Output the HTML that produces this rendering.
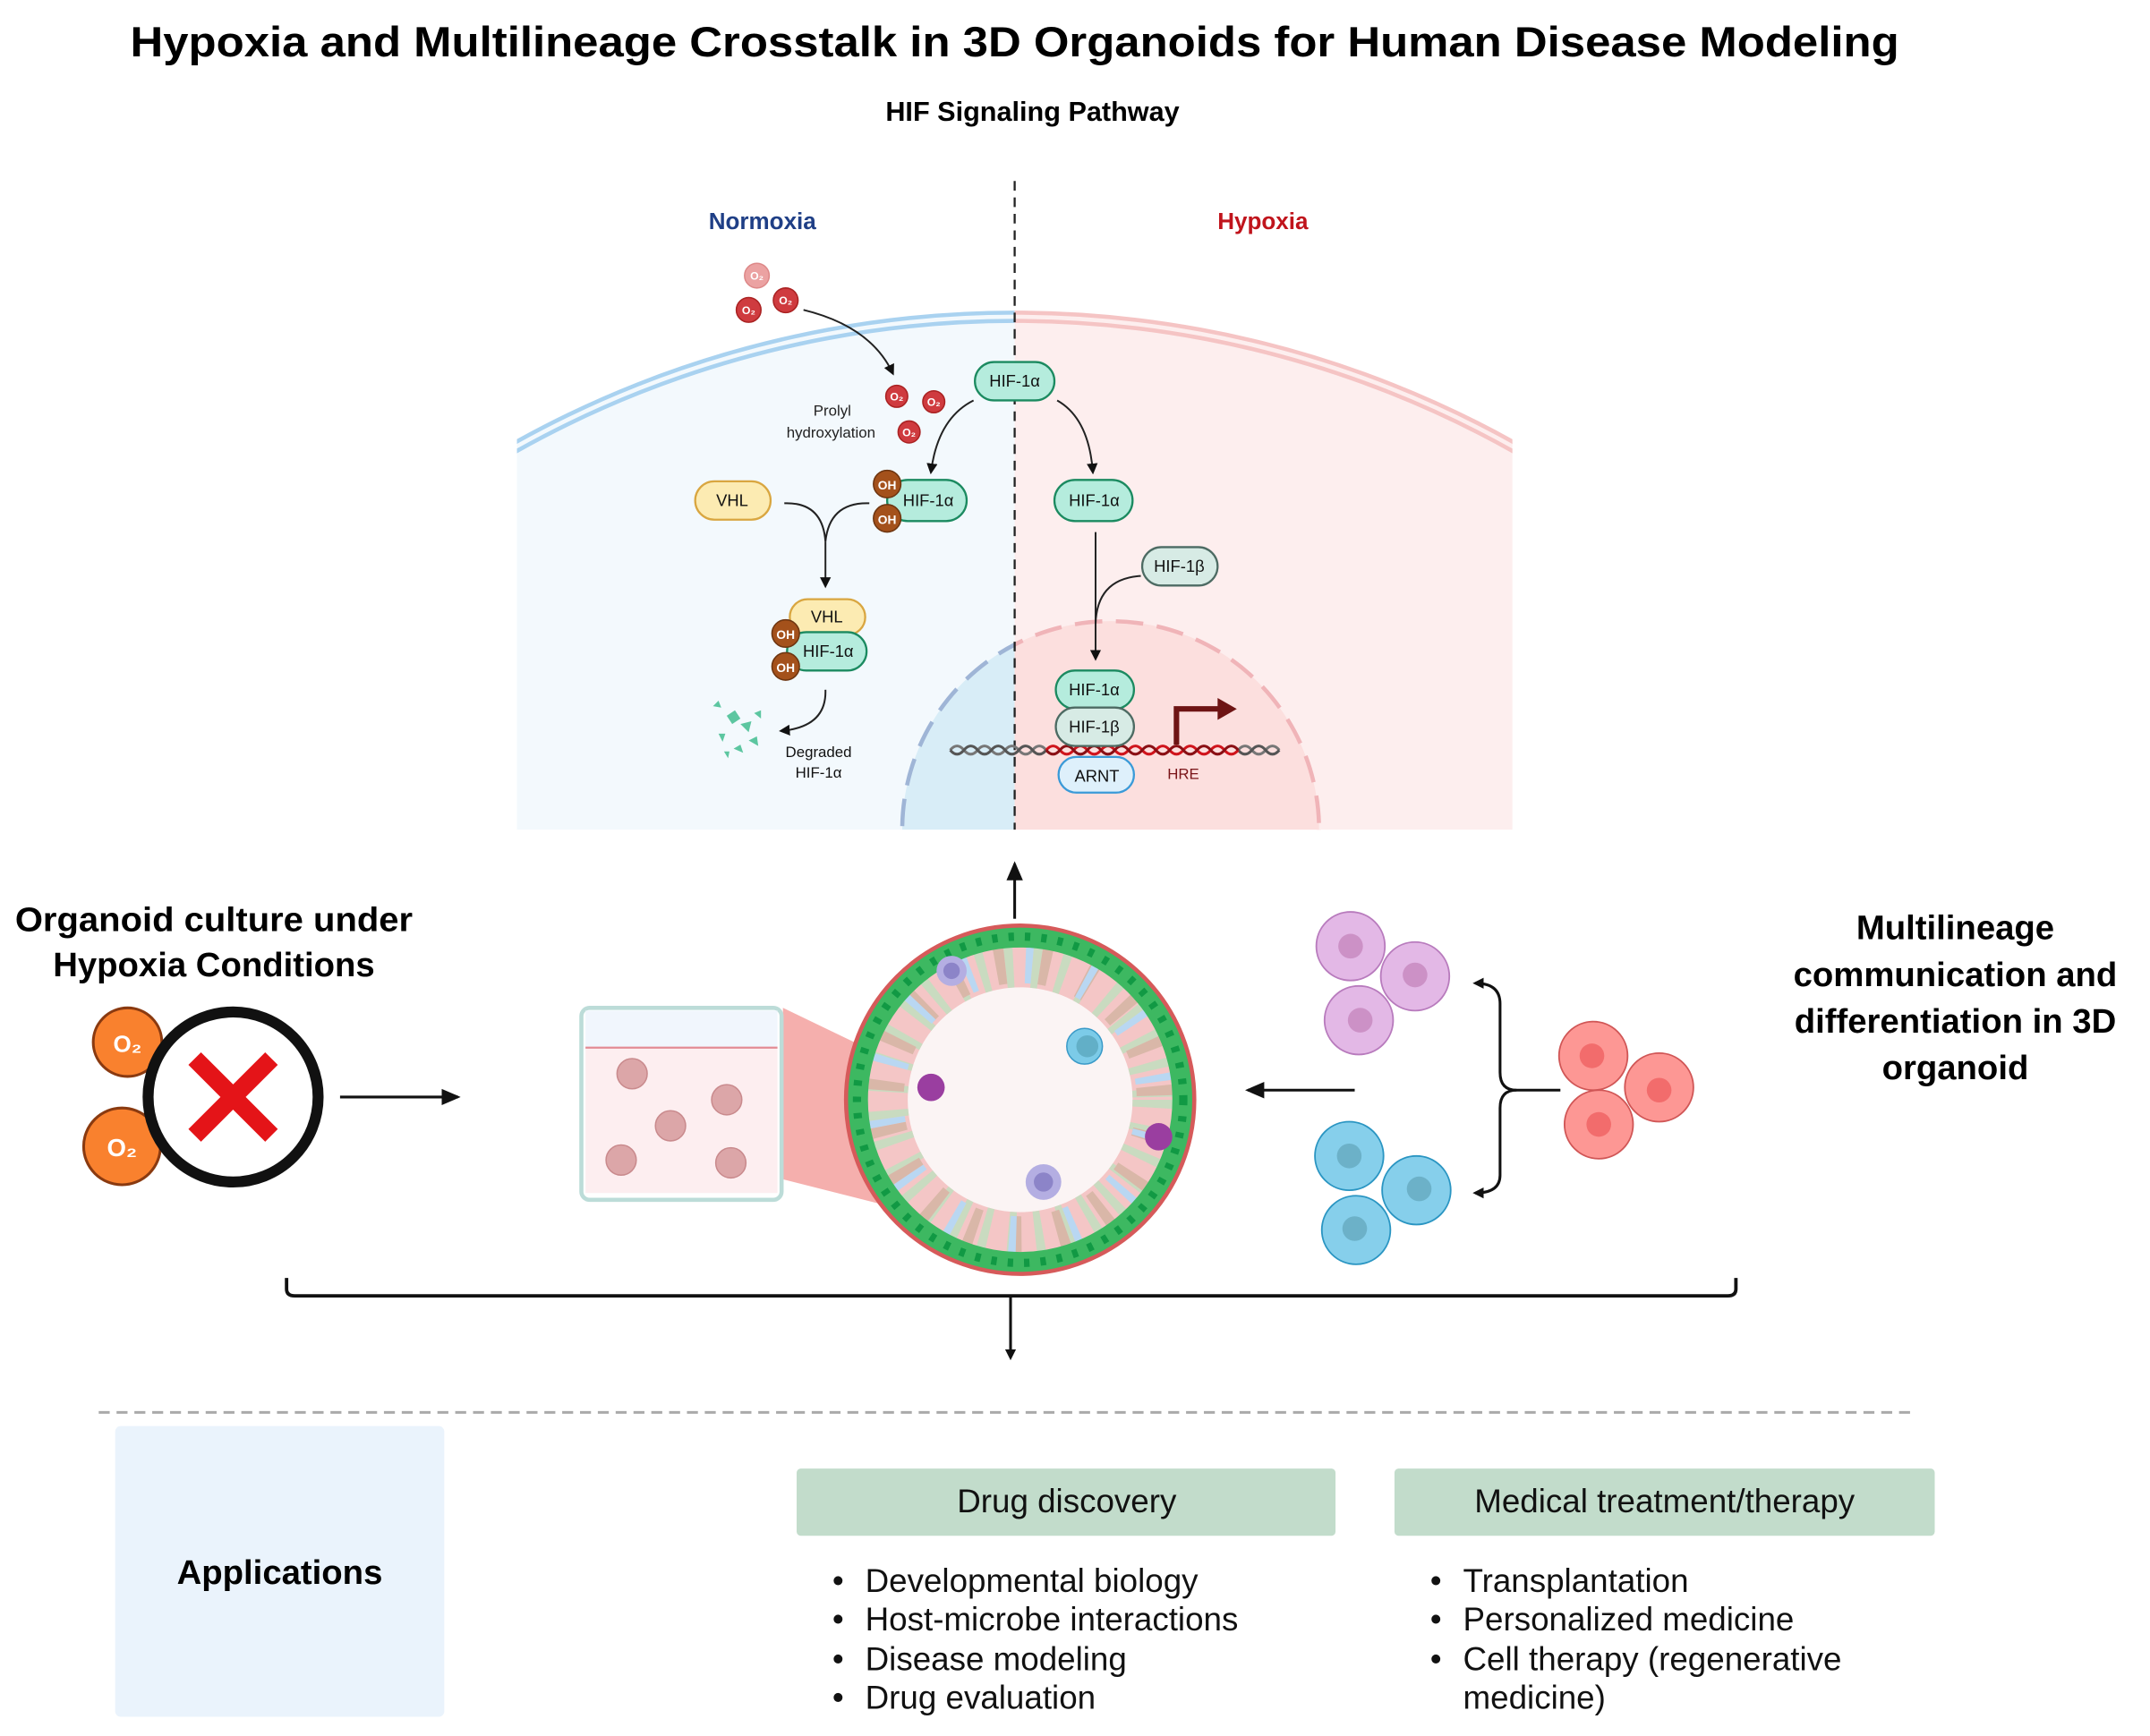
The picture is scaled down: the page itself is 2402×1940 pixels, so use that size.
<!DOCTYPE html>
<html><head><meta charset="utf-8"><style>
html,body{margin:0;padding:0;background:#fff;width:2402px;height:1940px;overflow:hidden}
svg{display:block}
text{font-family:"Liberation Sans",Arial,sans-serif}
</style></head><body>
<svg width="2402" height="1940" viewBox="0 0 1568 1266" preserveAspectRatio="none" xmlns="http://www.w3.org/2000/svg">
<defs>
<marker id="ah" markerWidth="8" markerHeight="8" refX="6" refY="4" orient="auto" markerUnits="userSpaceOnUse"><path d="M0,0 L8,4 L0,8 Z" fill="#111"/></marker>
<marker id="ahb" markerWidth="14" markerHeight="12" refX="12" refY="6" orient="auto" markerUnits="userSpaceOnUse"><path d="M0,0 L14,6 L0,12 Z" fill="#111"/></marker>
<clipPath id="pan"><rect x="377" y="120" width="726" height="485"/></clipPath>
<clipPath id="leftc"><rect x="377" y="120" width="363" height="485"/></clipPath>
<clipPath id="rightc"><rect x="740" y="120" width="363" height="485"/></clipPath>
<clipPath id="orgc"><circle cx="744" cy="802" r="127"/></clipPath>
</defs>

<text x="95" y="41" font-size="31" font-weight="bold" fill="#000" textLength="1290" lengthAdjust="spacingAndGlyphs">Hypoxia and Multilineage Crosstalk in 3D Organoids for Human Disease Modeling</text>
<text x="753" y="88" font-size="20" font-weight="bold" text-anchor="middle" fill="#000">HIF Signaling Pathway</text>

<g clip-path="url(#pan)">
 <g clip-path="url(#leftc)">
  <circle cx="740" cy="976" r="748" fill="#f3f9fd"/>
  <circle cx="740" cy="976" r="748" fill="none" stroke="#a9d2f0" stroke-width="3"/>
  <circle cx="740" cy="976" r="742" fill="none" stroke="#a9d2f0" stroke-width="3"/>
  <circle cx="810" cy="605" r="152" fill="#d8edf7" stroke="#9fb5d6" stroke-width="3" stroke-dasharray="20 10"/>
 </g>
 <g clip-path="url(#rightc)">
  <circle cx="740" cy="976" r="748" fill="#fdeeee"/>
  <circle cx="740" cy="976" r="748" fill="none" stroke="#f5c4c4" stroke-width="3"/>
  <circle cx="740" cy="976" r="742" fill="none" stroke="#f5c4c4" stroke-width="3"/>
  <circle cx="810" cy="605" r="152" fill="#fcdfde" stroke="#f0b4b8" stroke-width="3" stroke-dasharray="20 10"/>
 </g>
</g>
<line x1="740" y1="132" x2="740" y2="605" stroke="#222" stroke-width="1.5" stroke-dasharray="7 5"/>
<text x="556" y="167" font-size="17" font-weight="bold" text-anchor="middle" fill="#1f3f86">Normoxia</text>
<text x="921" y="167" font-size="17" font-weight="bold" text-anchor="middle" fill="#c0141c">Hypoxia</text>

<g font-size="8" font-weight="bold" fill="#fff" text-anchor="middle">
<circle cx="552" cy="201" r="9" fill="#eba2a2" stroke="#d88"/><text x="552" y="204">O₂</text>
<circle cx="546" cy="226" r="9" fill="#cf3b3f" stroke="#a22"/><text x="546" y="229">O₂</text>
<circle cx="573" cy="219" r="9" fill="#cf3b3f" stroke="#a22"/><text x="573" y="222">O₂</text>
<circle cx="654" cy="289" r="8" fill="#cf3b3f" stroke="#a22"/><text x="654" y="292">O₂</text>
<circle cx="681" cy="293" r="8" fill="#cf3b3f" stroke="#a22"/><text x="681" y="296">O₂</text>
<circle cx="663" cy="315" r="8" fill="#cf3b3f" stroke="#a22"/><text x="663" y="318">O₂</text>
</g>
<path d="M586,226 Q635,238 651,272" fill="none" stroke="#222" stroke-width="1.3" marker-end="url(#ah)"/>
<text x="607" y="303" font-size="11" text-anchor="middle" fill="#222">Prolyl</text>
<text x="606" y="319" font-size="11" text-anchor="middle" fill="#222">hydroxylation</text>

<g font-size="12" text-anchor="middle" fill="#111">
<rect x="711" y="264" width="58" height="28" rx="14" fill="#b5ecdd" stroke="#1b8a60" stroke-width="1.5"/><text x="740" y="282">HIF-1α</text>
<path d="M710,292 Q684,305 679,344" fill="none" stroke="#222" stroke-width="1.3" marker-end="url(#ah)"/>
<path d="M771,292 Q794,305 797,344" fill="none" stroke="#222" stroke-width="1.3" marker-end="url(#ah)"/>

<rect x="647" y="350" width="58" height="30" rx="15" fill="#b5ecdd" stroke="#1b8a60" stroke-width="1.5"/><text x="677" y="369">HIF-1α</text>
<circle cx="647" cy="353" r="10" fill="#a4511b" stroke="#6d3510"/><text x="647" y="357" font-size="9" font-weight="bold" fill="#fff">OH</text>
<circle cx="647" cy="378" r="10" fill="#a4511b" stroke="#6d3510"/><text x="647" y="382" font-size="9" font-weight="bold" fill="#fff">OH</text>
<rect x="507" y="351" width="55" height="28" rx="14" fill="#fcebb2" stroke="#d9a640" stroke-width="1.5"/><text x="534" y="369">VHL</text>
<path d="M572,367 Q600,366 602,395 M634,367 Q605,366 602,395" fill="none" stroke="#222" stroke-width="1.3"/>
<line x1="602" y1="395" x2="602" y2="427" stroke="#222" stroke-width="1.3" marker-end="url(#ah)"/>

<rect x="576" y="437" width="55" height="26" rx="13" fill="#fcebb2" stroke="#d9a640" stroke-width="1.5"/><text x="603" y="454">VHL</text>
<rect x="574" y="461" width="58" height="28" rx="14" fill="#b5ecdd" stroke="#1b8a60" stroke-width="1.5"/><text x="604" y="479">HIF-1α</text>
<circle cx="573" cy="462" r="10" fill="#a4511b" stroke="#6d3510"/><text x="573" y="466" font-size="9" font-weight="bold" fill="#fff">OH</text>
<circle cx="573" cy="486" r="10" fill="#a4511b" stroke="#6d3510"/><text x="573" y="490" font-size="9" font-weight="bold" fill="#fff">OH</text>
<path d="M602,503 Q603,530 570,533" fill="none" stroke="#222" stroke-width="1.3" marker-end="url(#ah)"/>
<text x="597" y="552" font-size="11">Degraded</text>
<text x="597" y="567" font-size="11">HIF-1α</text>

<rect x="769" y="350" width="57" height="30" rx="15" fill="#b5ecdd" stroke="#1b8a60" stroke-width="1.5"/><text x="798" y="369">HIF-1α</text>
<line x1="799" y1="388" x2="799" y2="480" stroke="#222" stroke-width="1.3" marker-end="url(#ah)"/>
<path d="M832,420 Q800,422 799,455" fill="none" stroke="#222" stroke-width="1.3"/>
<rect x="833" y="399" width="55" height="28" rx="14" fill="#d7ebe5" stroke="#4d6b63" stroke-width="1.5"/><text x="860" y="417">HIF-1β</text>
<path d="M693,547 q5,-6 10,0 t10,0 t10,0 t10,0 t10,0 t10,0 t10,0 M903,547 q5,-6 10,0 t10,0 t10,0" fill="none" stroke="#777" stroke-width="2"/>
<path d="M693,547 q5,6 10,0 t10,0 t10,0 t10,0 t10,0 t10,0 t10,0 M903,547 q5,6 10,0 t10,0 t10,0" fill="none" stroke="#555" stroke-width="2"/>
<path d="M763,547 q5,-6 10,0 t10,0 t10,0 t10,0 t10,0 t10,0 t10,0 t10,0 t10,0 t10,0 t10,0 t10,0 t10,0 t10,0" fill="none" stroke="#d0141c" stroke-width="2"/>
<path d="M763,547 q5,6 10,0 t10,0 t10,0 t10,0 t10,0 t10,0 t10,0 t10,0 t10,0 t10,0 t10,0 t10,0 t10,0 t10,0" fill="none" stroke="#8a0f14" stroke-width="2"/>
<rect x="770" y="489" width="57" height="28" rx="14" fill="#b5ecdd" stroke="#1b8a60" stroke-width="1.5"/><text x="798" y="507">HIF-1α</text>
<rect x="770" y="516" width="57" height="28" rx="14" fill="#d7ebe5" stroke="#4d6b63" stroke-width="1.5"/><text x="798" y="534">HIF-1β</text>
<rect x="772" y="552" width="55" height="26" rx="13" fill="#def0fb" stroke="#3a9ad8" stroke-width="1.5"/><text x="800" y="570">ARNT</text>
<text x="863" y="568" font-size="11" fill="#7a1418">HRE</text>
</g>
<path d="M858,543 L858,517 L890,517" fill="none" stroke="#6e1414" stroke-width="4"/>
<path d="M888,509 L902,517 L888,525 Z" fill="#6e1414"/>
<g fill="#5cc6a0">
<path d="M530,522 l6,-4 l4,6 l-6,4 z"/><path d="M540,528 l8,-2 l-2,8 z"/><path d="M524,535 l5,0 l-2,6 z"/><path d="M546,540 l6,-3 l1,7 z"/><path d="M535,546 l5,-3 l2,6 z"/><path d="M520,515 l4,-4 l2,5 z"/><path d="M550,520 l5,-2 l0,6 z"/><path d="M528,548 l4,0 l-1,5 z"/>
</g>

<line x1="740" y1="670" x2="740" y2="630" stroke="#111" stroke-width="2" marker-end="url(#ahb)"/>

<text x="11" y="679" font-size="25" font-weight="bold" fill="#000" textLength="290" lengthAdjust="spacingAndGlyphs">Organoid culture under</text>
<text x="156" y="712" font-size="25" font-weight="bold" text-anchor="middle" fill="#000">Hypoxia Conditions</text>
<circle cx="93" cy="760" r="25" fill="#f9812e" stroke="#8a3a10" stroke-width="2"/>
<text x="93" y="767" font-size="17" font-weight="bold" fill="#fff" text-anchor="middle">O₂</text>
<circle cx="89" cy="836" r="28" fill="#f9812e" stroke="#8a3a10" stroke-width="2"/>
<text x="89" y="843" font-size="18" font-weight="bold" fill="#fff" text-anchor="middle">O₂</text>
<circle cx="170" cy="800" r="62" fill="#fff" stroke="#111" stroke-width="8"/>
<path d="M142,772 L198,828 M198,772 L142,828" stroke="#e41418" stroke-width="13"/>
<line x1="248" y1="800" x2="334" y2="800" stroke="#111" stroke-width="2" marker-end="url(#ahb)"/>

<polygon points="571,735 623,760 650,880 571,860" fill="#f4a6a4" opacity="0.9"/>
<rect x="424" y="735" width="146" height="140" rx="6" fill="#fff" stroke="#bcdcd8" stroke-width="3"/>
<rect x="427" y="737" width="140" height="27" fill="#f1f6fd"/>
<rect x="427" y="764" width="140" height="106" fill="#fdeef0"/>
<line x1="427" y1="764" x2="567" y2="764" stroke="#e38c95" stroke-width="1.5"/>
<g fill="#dca6a8" stroke="#c98a8d" stroke-width="1">
<circle cx="461" cy="783" r="11"/><circle cx="530" cy="802" r="11"/><circle cx="489" cy="821" r="11"/><circle cx="453" cy="846" r="11"/><circle cx="533" cy="848" r="11"/>
</g>

<circle cx="744" cy="802" r="127" fill="#fbf4f4"/>
<g clip-path="url(#orgc)">
 <circle cx="744" cy="802" r="100" fill="none" stroke="#f4c6c6" stroke-width="36"/>
 <circle cx="744" cy="802" r="100" fill="none" stroke="#c9dbc0" stroke-width="36" stroke-dasharray="6 14"/>
 <circle cx="744" cy="802" r="100" fill="none" stroke="#d9b7a8" stroke-width="30" stroke-dasharray="7 26" stroke-dashoffset="9"/>
 <circle cx="744" cy="802" r="100" fill="none" stroke="#b9d7f2" stroke-width="30" stroke-dasharray="5 40" stroke-dashoffset="20"/>
 <circle cx="744" cy="802" r="119" fill="none" stroke="#3db861" stroke-width="16"/>
 <circle cx="744" cy="802" r="119" fill="none" stroke="#119944" stroke-width="6" stroke-dasharray="4 8"/>
</g>
<circle cx="744" cy="802" r="127" fill="none" stroke="#d65a5a" stroke-width="3"/>
<circle cx="791" cy="763" r="13" fill="#7ccbe8" stroke="#3a9ac8"/><circle cx="793" cy="763" r="8" fill="#62afc7"/>
<circle cx="679" cy="793" r="10" fill="#9a3ea0"/><circle cx="845" cy="829" r="10" fill="#9a3ea0"/>
<circle cx="761" cy="862" r="13" fill="#b4aee2"/><circle cx="761" cy="862" r="7" fill="#8c84c8"/>
<circle cx="694" cy="708" r="11" fill="#b4aee2"/><circle cx="694" cy="708" r="6" fill="#8c84c8"/>
<line x1="988" y1="795" x2="910" y2="795" stroke="#111" stroke-width="2" marker-end="url(#ahb)"/>

<g stroke-width="1.2">
<circle cx="985" cy="690" r="25" fill="#e3b8e6" stroke="#b87bbd"/><circle cx="985" cy="690" r="9" fill="#cc91c6"/>
<circle cx="1032" cy="712" r="25" fill="#e3b8e6" stroke="#b87bbd"/><circle cx="1032" cy="711" r="9" fill="#cc91c6"/>
<circle cx="991" cy="744" r="25" fill="#e3b8e6" stroke="#b87bbd"/><circle cx="992" cy="744" r="9" fill="#cc91c6"/>
<circle cx="984" cy="843" r="25" fill="#86cfeb" stroke="#2a95c2"/><circle cx="984" cy="843" r="9" fill="#6cb1c8"/>
<circle cx="1033" cy="868" r="25" fill="#86cfeb" stroke="#2a95c2"/><circle cx="1035" cy="867" r="9" fill="#6cb1c8"/>
<circle cx="989" cy="897" r="25" fill="#86cfeb" stroke="#2a95c2"/><circle cx="988" cy="896" r="9" fill="#6cb1c8"/>
<circle cx="1162" cy="770" r="25" fill="#fd9794" stroke="#d05656"/><circle cx="1161" cy="770" r="9" fill="#f26c6c"/>
<circle cx="1210" cy="793" r="25" fill="#fd9794" stroke="#d05656"/><circle cx="1210" cy="795" r="9" fill="#f26c6c"/>
<circle cx="1166" cy="820" r="25" fill="#fd9794" stroke="#d05656"/><circle cx="1166" cy="820" r="9" fill="#f26c6c"/>
</g>
<path d="M1138,795 L1106,795 Q1094,795 1094,782 L1094,732 Q1094,717 1076,717" fill="none" stroke="#111" stroke-width="2" marker-end="url(#ah)"/>
<path d="M1106,795 Q1094,795 1094,808 L1094,857 Q1094,870 1076,870" fill="none" stroke="#111" stroke-width="2" marker-end="url(#ah)"/>

<text x="1426" y="685" font-size="25" font-weight="bold" text-anchor="middle" fill="#000">Multilineage</text>
<text x="1426" y="719" font-size="25" font-weight="bold" text-anchor="middle" fill="#000">communication and</text>
<text x="1426" y="753" font-size="25" font-weight="bold" text-anchor="middle" fill="#000">differentiation in 3D</text>
<text x="1426" y="787" font-size="25" font-weight="bold" text-anchor="middle" fill="#000">organoid</text>

<path d="M209,932 L209,940 Q209,945 215,945 L1260,945 Q1266,945 1266,940 L1266,932" fill="none" stroke="#111" stroke-width="2.5"/>
<line x1="737" y1="945" x2="737" y2="990" stroke="#111" stroke-width="2" marker-end="url(#ah)"/>
<line x1="72" y1="1030" x2="1398" y2="1030" stroke="#aaa" stroke-width="2" stroke-dasharray="8 5"/>

<rect x="84" y="1040" width="240" height="212" rx="4" fill="#eaf3fc"/>
<text x="204" y="1155" font-size="25" font-weight="bold" text-anchor="middle" fill="#000">Applications</text>
<rect x="581" y="1071" width="393" height="49" rx="3" fill="#c2dccb"/>
<text x="778" y="1103" font-size="24" text-anchor="middle" fill="#111">Drug discovery</text>
<rect x="1017" y="1071" width="394" height="49" rx="3" fill="#c2dccb"/>
<text x="1214" y="1103" font-size="24" text-anchor="middle" fill="#111">Medical treatment/therapy</text>
<g font-size="24" fill="#111">
<text x="607" y="1161">•</text><text x="631" y="1161">Developmental biology</text>
<text x="607" y="1189">•</text><text x="631" y="1189">Host-microbe interactions</text>
<text x="607" y="1218">•</text><text x="631" y="1218">Disease modeling</text>
<text x="607" y="1246">•</text><text x="631" y="1246">Drug evaluation</text>
<text x="1043" y="1161">•</text><text x="1067" y="1161">Transplantation</text>
<text x="1043" y="1189">•</text><text x="1067" y="1189">Personalized medicine</text>
<text x="1043" y="1218">•</text><text x="1067" y="1218">Cell therapy (regenerative</text>
<text x="1067" y="1246">medicine)</text>
</g>
</svg>
</body></html>
